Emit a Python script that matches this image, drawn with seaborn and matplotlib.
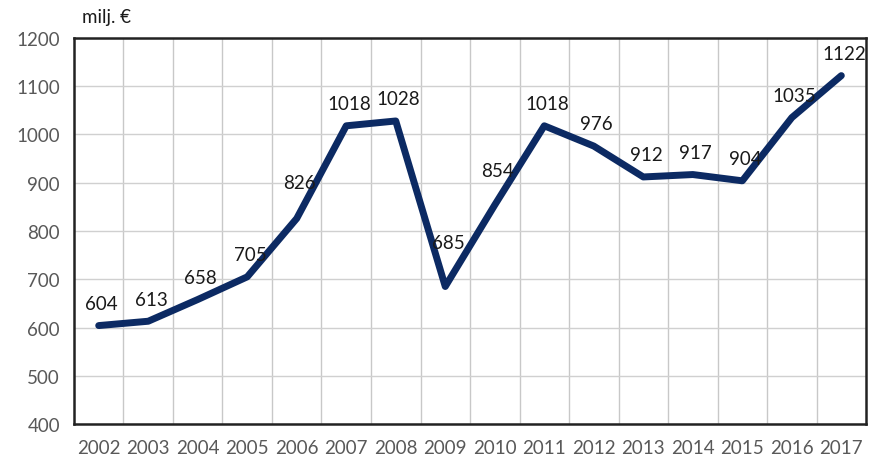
import matplotlib
matplotlib.use("Agg")
import matplotlib.pyplot as plt
import seaborn as sns
import pandas as pd
import numpy as np

years = ["2002", "2003", "2004", "2005", "2006", "2007", "2008", "2009",
         "2010", "2011", "2012", "2013", "2014", "2015", "2016", "2017"]
values = [604, 613, 658, 705, 826, 1018, 1028, 685, 854, 1018, 976, 912, 917, 904, 1035, 1122]
y_ticks = [400, 500, 600, 700, 800, 900, 1000, 1100, 1200]
unit_label = "milj. €"

df = pd.DataFrame({"year": years, "value": values})

sns.set_theme(style="white")
plt.rcParams["font.family"] = ["Lato", "DejaVu Sans"]

fig = plt.figure(figsize=(8.7, 4.64), dpi=100)
ax = fig.add_axes([0.085, 0.084, 0.9105, 0.832])

sns.lineplot(data=df, x="year", y="value", ax=ax, color="#0c2a63",
             linewidth=5.0, solid_capstyle="round", solid_joinstyle="round", sort=False)

ax.set_xlim(-0.5, len(years) - 0.5)
ax.set_ylim(400, 1200)
ax.set_yticks(y_ticks)
ax.set_xticks(range(len(years)))
ax.set_xticklabels(years)
ax.set_xticks(np.arange(0.5, len(years) - 1, 1), minor=True)

ax.grid(True, axis="y", which="major", color="#d0d0d0", linewidth=1.0)
ax.grid(True, axis="x", which="minor", color="#c8c8c8", linewidth=1.0)
ax.grid(False, axis="x", which="major")
ax.set_axisbelow(True)

for s in ax.spines.values():
    s.set_visible(True)
    s.set_color("#222222")
    s.set_linewidth(1.8)

ax.tick_params(axis="both", which="both", length=0, labelsize=13.5, colors="#595959")
ax.tick_params(axis="x", pad=11)
ax.tick_params(axis="y", pad=10)
ax.set_xlabel("")
ax.set_ylabel("")

# label offsets in points (layout only)
extra = {4: 10, 7: 16, 8: 9}
for i, v in enumerate(values):
    dy = 16 + extra.get(i, 0)
    ax.annotate(str(v), (i, v), xytext=(2, dy), textcoords="offset points",
                ha="center", va="center", fontsize=13.5, color="#1a1a1a")

fig.text(82 / 870, 1 - 18 / 464, unit_label, ha="left", va="center",
         fontsize=13.5, color="#1a1a1a")

fig.savefig("out.png", dpi=100)
